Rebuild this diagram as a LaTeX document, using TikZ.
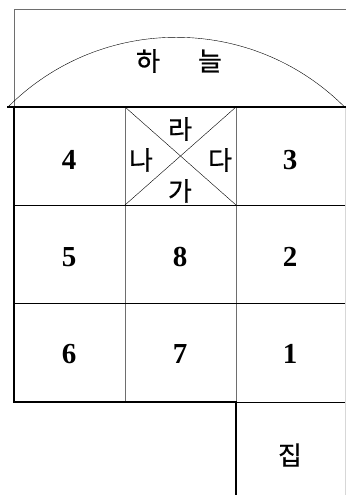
\documentclass[tikz,border=0pt]{standalone}
\usepackage{fontspec}
\newfontfamily\korfont[FakeBold=0.7]{Noto Sans CJK KR}
\newfontfamily\numfont{Liberation Serif}
\usepackage{xcolor}
\definecolor{gridgray}{RGB}{110,110,110}
\definecolor{edgegray}{RGB}{215,215,215}
\usetikzlibrary{positioning}
\tikzset{
  numlabel/.style={font=\numfont\bfseries\fontsize{29}{29}\selectfont},
  korlabel/.style={font=\korfont\fontsize{26}{26}\selectfont},
}

\begin{document}
\begin{tikzpicture}[x=1pt,y=1pt]
  \useasboundingbox (0,0) rectangle (346,495);

  % Sky
  \draw[gridgray,semithick] (14,388) |- (346,486);
  \draw[thin] (8,388) arc[start angle=135,end angle=45,radius=238];
  \node[korlabel] (ha) at (148,434) {하};
  \node[korlabel] (neul) at (210,434) {늘};

  % Grid
  \draw[gridgray] (125,388) -- (125,93);
  \draw[gridgray] (236,388) -- (236,93);
  \draw (14,290) -- (346,290);
  \draw (14,192) -- (346,192);
  \draw (236,93) -- (346,93);
  \draw[edgegray] (345,388) -- (345,0);
  \draw[very thick] (7,388) -- (346,388);
  \draw[very thick] (14,388) -- (14,93) -- (236,93) -- (236,0);

  % Crossed cell
  \draw (125,388) -- (236,290);
  \draw (236,388) -- (125,290);
  \node[korlabel] (ra) at (180,366) {라};
  \node[korlabel] (na) at (141,335) {나};
  \node[korlabel] (da) at (220,335) {다};
  \node[korlabel] (ga) at (180,304) {가};

  % Numbers
  \node[numlabel] (n4) at (69,335) {4};
  \node[numlabel] (n3) at (290,335) {3};
  \node[numlabel] (n5) at (69,238) {5};
  \node[numlabel] (n8) at (180,238) {8};
  \node[numlabel] (n2) at (290,238) {2};
  \node[numlabel] (n6) at (69,141) {6};
  \node[numlabel] (n7) at (180,141) {7};
  \node[numlabel] (n1) at (290,141) {1};

  % House
  \node[korlabel] (jip) at (290,40) {집};
\end{tikzpicture}
\end{document}
